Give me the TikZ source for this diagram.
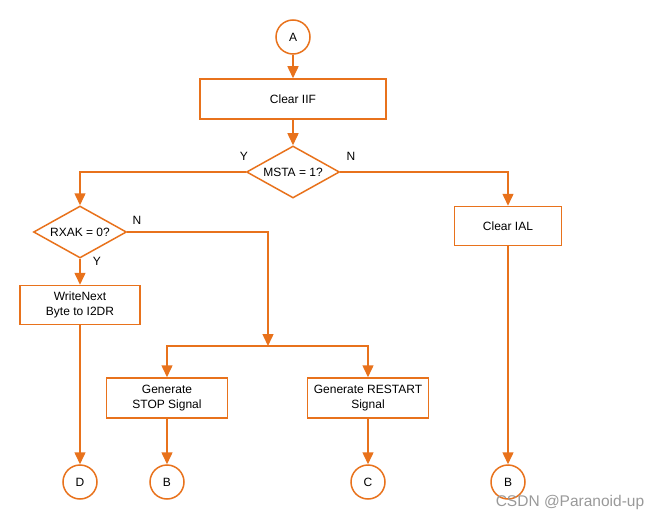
\documentclass[tikz,border=0pt]{standalone}
\usepackage{fontspec}
\setmainfont{Liberation Sans}
\usetikzlibrary{shapes.geometric,arrows.meta}
\definecolor{fcor}{RGB}{232,114,28}
\begin{document}
\begin{tikzpicture}[x=1pt,y=-1pt,
  every node/.style={font=\fontsize{12}{15}\selectfont, text=black},
  proc/.style={draw=fcor, line width=1.5pt, rectangle, inner sep=0pt, align=center},
  conn/.style={draw=fcor, line width=1.5pt, circle, minimum size=34pt, inner sep=0pt},
  dec/.style={draw=fcor, line width=1.5pt, diamond, inner sep=0pt, aspect=1.79, minimum width=93pt, minimum height=52pt},
  flow/.style={draw=fcor, line width=1.5pt, -{Triangle[length=12pt,width=11pt]}},
  line/.style={draw=fcor, line width=1.5pt}]
\useasboundingbox (0,0) rectangle (659,519);
\node[conn] (A) at (293,37) {A};
\node[proc, minimum width=186pt, minimum height=40pt] (iif) at (293,99) {Clear IIF};
\node[dec] (msta) at (293,172) {MSTA = 1?};
\node[dec] (rxak) at (80,232) {RXAK = 0?};
\node[proc, minimum width=107pt, minimum height=39pt] (ial) at (508,226) {Clear IAL};
\node[proc, minimum width=120pt, minimum height=39pt] (wn) at (80,305) {WriteNext\\Byte to I2DR};
\node[proc, minimum width=121pt, minimum height=40pt] (stop) at (167,398) {Generate\\STOP Signal};
\node[proc, minimum width=121pt, minimum height=40pt] (rst) at (368,398) {Generate RESTART\\Signal};
\node[conn] (D) at (80,482) {D};
\node[conn] (B1) at (167,482) {B};
\node[conn] (C) at (368,482) {C};
\node[conn] (B2) at (508,482) {B};
\coordinate (j) at (268,346);
\node (ly1) at (244,156) {Y};
\node (ln1) at (351,156) {N};
\node (ly2) at (97,261) {Y};
\node (ln2) at (137,220) {N};
\node[text=black!40, font=\fontsize{15.5}{17}\selectfont] (wm) at (570,502) {CSDN @Paranoid-up};
\draw[flow] (A) -- (iif);
\draw[flow] (iif) -- (msta);
\draw[flow] (msta.west) -| (rxak.north);
\draw[flow] (msta.east) -| (ial.north);
\draw[flow] (rxak.south) -- (wn);
\draw[flow] (rxak.east) -| (j);
\draw[flow] (j) -| (stop.north);
\draw[flow] (j) -| (rst.north);
\draw[flow] (wn) -- (D);
\draw[flow] (stop) -- (B1);
\draw[flow] (rst) -- (C);
\draw[flow] (ial) -- (B2);
\end{tikzpicture}
\end{document}
